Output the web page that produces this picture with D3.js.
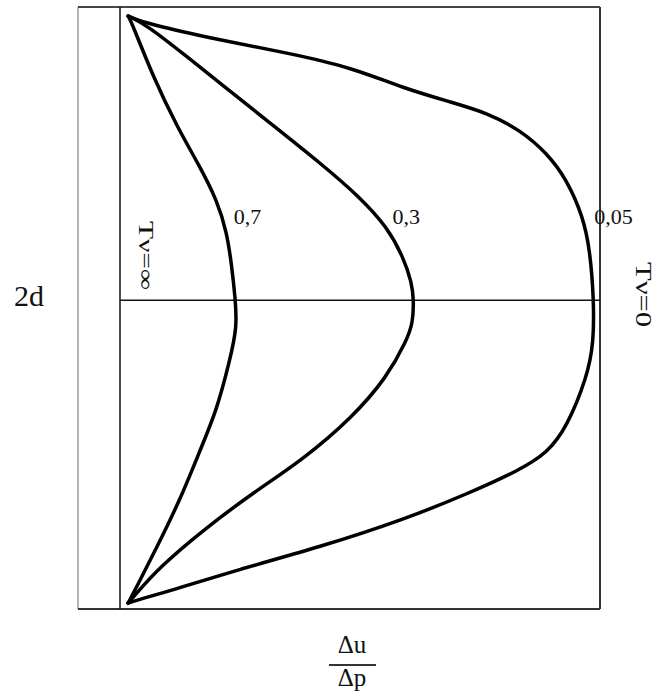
<!DOCTYPE html>
<html>
<head>
<meta charset="utf-8">
<script src="https://cdn.jsdelivr.net/npm/d3@7"></script>
<style>
 body{margin:0;background:#fff}
 text{font-family:"Liberation Serif","Times New Roman",serif;fill:#111}
</style>
</head>
<body>
<svg id="chart" width="660" height="700"></svg>
<script>
// curve labels (relative time values)
var curveNames=["0,7","0,3","0,05"]

// x = Δu/Δp (0 .. 1), y = height across 2d (0 bottom .. 1 top), listed top to bottom
var curve07=[[0.017,0.985],[0.025,0.973],[0.069,0.884],[0.119,0.801],[0.167,0.734],[0.202,0.679],
 [0.223,0.625],[0.233,0.568],[0.240,0.517],[0.244,0.468],[0.229,0.414],[0.202,0.331],[0.167,0.264],
 [0.125,0.181],[0.077,0.103],[0.035,0.037],[0.017,0.010]]
var curve03=[[0.017,0.985],[0.056,0.970],[0.140,0.917],[0.208,0.874],[0.313,0.807],[0.417,0.741],
 [0.500,0.684],[0.556,0.635],[0.590,0.585],[0.608,0.542],[0.612,0.513],[0.610,0.475],[0.598,0.447],
 [0.556,0.385],[0.485,0.319],[0.381,0.248],[0.277,0.193],[0.173,0.131],[0.083,0.070],[0.030,0.022],[0.017,0.010]]
var curve005=[[0.017,0.985],[0.056,0.972],[0.208,0.945],[0.348,0.924],[0.485,0.899],[0.590,0.865],
 [0.694,0.841],[0.765,0.824],[0.833,0.796],[0.890,0.757],[0.931,0.713],[0.965,0.651],[0.979,0.596],
 [0.987,0.517],[0.987,0.442],[0.973,0.385],[0.931,0.302],[0.890,0.259],[0.833,0.231],[0.729,0.193],
 [0.590,0.148],[0.417,0.103],[0.244,0.065],[0.104,0.030],[0.040,0.016],[0.017,0.010]]
var curves=[curve07,curve03,curve005]

var midLevel=0.513   // the horizontal centre line
var labelLevel=0.643 // height where the curve labels sit

var svg=d3.select("#chart")

var xScale=d3.scaleLinear()
    .domain([0,1])
    .range([120,600])
var yScale=d3.scaleLinear()
    .domain([0,1])
    .range([609,7])

// 2d bracket on the left
svg.append("line")
 .attr("x1",78).attr("y1",yScale(0)).attr("x2",78).attr("y2",yScale(1))
 .attr("stroke","#999").attr("stroke-width",1.5)

// frame
svg.append("line")
 .attr("x1",78).attr("y1",yScale(1)).attr("x2",xScale(1)).attr("y2",yScale(1))
 .attr("stroke","#444").attr("stroke-width",2)
svg.append("line")
 .attr("x1",78).attr("y1",yScale(0)).attr("x2",xScale(1)).attr("y2",yScale(0))
 .attr("stroke","#333").attr("stroke-width",2)
svg.append("line")
 .attr("x1",xScale(1)).attr("y1",yScale(1)).attr("x2",xScale(1)).attr("y2",yScale(0))
 .attr("stroke","#333").attr("stroke-width",2)
svg.append("line")
 .attr("x1",xScale(0)).attr("y1",yScale(1)).attr("x2",xScale(0)).attr("y2",yScale(0))
 .attr("stroke","#111").attr("stroke-width",1.5)

// centre line
svg.append("line")
 .attr("x1",xScale(0)).attr("y1",yScale(midLevel)).attr("x2",xScale(1)).attr("y2",yScale(midLevel))
 .attr("stroke","#111").attr("stroke-width",1.5)

var curveLine=d3.line()
    .x(function(d){return xScale(d[0])})
    .y(function(d){return yScale(d[1])})
    .curve(d3.curveBasis)

svg.selectAll("path.curve")
 .data(curves)
 .enter().append("path")
 .attr("class","curve")
 .attr("d",curveLine)
 .attr("fill","none")
 .attr("stroke","#000")
 .attr("stroke-width",3.5)
 .attr("stroke-linejoin","round")
 .attr("stroke-linecap","round")

// x of a curve (upper branch) at a given level
function xAtLevel(pts,level){
  for(var i=0;i<pts.length-1;i++){
    var a=pts[i],b=pts[i+1]
    if((a[1]-level)*(b[1]-level)<=0){
      var t=(level-a[1])/(b[1]-a[1])
      return a[0]+t*(b[0]-a[0])
    }
  }
  return pts[0][0]
}

svg.selectAll("text.clabel")
 .data(curves)
 .enter().append("text")
 .attr("class","clabel")
 .attr("x",function(d){return xScale(xAtLevel(d,labelLevel))+10})
 .attr("y",yScale(labelLevel)+2)
 .attr("font-size","22px")
 .text(function(d,i){return curveNames[i]})

// 2d
svg.append("text")
 .attr("x",14).attr("y",306)
 .attr("font-size","30px")
 .text("2d")

// T=∞ and T=0 (rotated)
svg.append("text")
 .attr("transform","translate(139,221)rotate(90)")
 .attr("font-size","22px")
 .attr("textLength",69)
 .attr("lengthAdjust","spacingAndGlyphs")
 .text("Tν=∞")
svg.append("text")
 .attr("transform","translate(636,262)rotate(90)")
 .attr("font-size","24px")
 .attr("textLength",65)
 .attr("lengthAdjust","spacingAndGlyphs")
 .text("Tν=0")

// Δu / Δp
var fx=352
svg.append("text")
 .attr("x",fx).attr("y",653)
 .attr("text-anchor","middle")
 .attr("font-size","25px")
 .text("Δu")
svg.append("line")
 .attr("x1",329).attr("y1",665).attr("x2",376).attr("y2",665)
 .attr("stroke","#333").attr("stroke-width",2)
svg.append("text")
 .attr("x",fx).attr("y",686)
 .attr("text-anchor","middle")
 .attr("font-size","25px")
 .text("Δp")
</script>
</body>
</html>
